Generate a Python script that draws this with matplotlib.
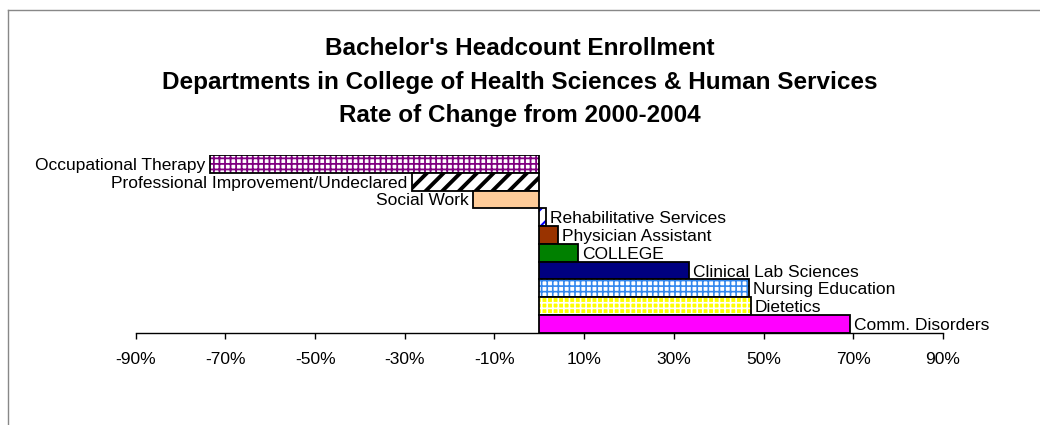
import numpy as np
import matplotlib.pyplot as plt
from matplotlib.lines import Line2D

plt.rcParams['font.family'] = ['Liberation Sans', 'DejaVu Sans']
plt.rcParams['hatch.linewidth'] = 1.0

# data, top to bottom as shown
departments = ["Occupational Therapy", "Professional Improvement/Undeclared",
               "Social Work", "Rehabilitative Services", "Physician Assistant",
               "COLLEGE", "Clinical Lab Sciences", "Nursing Education",
               "Dietetics", "Comm. Disorders"]
change = [-73.5, -28.5, -14.7, 1.4, 4.2, 8.7, 33.3, 46.8, 47.1, 69.3]

# fill colour, hatch, hatch colour, hatch linewidth
faces = ["white", "white", "#FFCC99", "white", "#993300",
         "#008000", "#000080", "white", "#FFFF00", "#FF00FF"]
hatches = ["+++", "//", None, "//", None, None, None, "+++", "+++", None]
hatch_colors = ["#800080", "black", None, "#0000FF", None, None, None,
                "#3388EE", "white", None]
hatch_lws = [1.3, 2.8, 1.0, 1.5, 1.0, 1.0, 1.0, 1.2, 1.2, 1.0]

ticks = [-90, -70, -50, -30, -10, 10, 30, 50, 70, 90]

fig = plt.figure(figsize=(10.4, 4.25), dpi=100)
ax = fig.add_axes([135.7 / 1040, 92.3 / 425, (943 - 135.7) / 1040, 177.7 / 425])

y = np.arange(len(departments))[::-1]

for yi, v, fc, h, hc, hlw in zip(y, change, faces, hatches, hatch_colors, hatch_lws):
    if h:
        b = ax.barh(yi, v, height=1.0, color=fc, edgecolor=hc, hatch=h,
                    linewidth=0)[0]
        if hasattr(b, "set_hatch_linewidth"):
            b.set_hatch_linewidth(hlw)
    else:
        ax.barh(yi, v, height=1.0, color=fc, linewidth=0)
    ax.barh(yi, v, height=1.0, fill=False, edgecolor="black", linewidth=1.3)

for yi, v, name in zip(y, change, departments):
    if v < 0:
        ax.text(v - 1.0, yi, name, ha="right", va="center_baseline", fontsize=12.5)
    else:
        ax.text(v + 0.9, yi, name, ha="left", va="center_baseline", fontsize=12.5)

ax.set_xlim(-90, 90)
ax.set_ylim(-0.5, len(departments) - 0.5)
ax.set_xticks(ticks)
ax.set_xticklabels([f"{t}%" for t in ticks], fontsize=12.5)
ax.tick_params(axis="x", direction="out", length=4, width=1, pad=10)
ax.set_yticks([])
for s in ["left", "right", "top"]:
    ax.spines[s].set_visible(False)
ax.spines["bottom"].set_linewidth(1)

fig.text(0.5, 1 - 82 / 425,
         "Bachelor's Headcount Enrollment\n"
         "Departments in College of Health Sciences & Human Services\n"
         "Rate of Change from 2000-2004",
         ha="center", va="center", fontsize=17.5, fontweight="bold",
         linespacing=1.58)

# outer chart-area border (cropped)
fig.add_artist(Line2D([8 / 1040, 8 / 1040], [0, 1 - 10 / 425],
                      transform=fig.transFigure, color="#888888", lw=1))
fig.add_artist(Line2D([8 / 1040, 1], [1 - 10 / 425, 1 - 10 / 425],
                      transform=fig.transFigure, color="#888888", lw=1))

fig.savefig("out.png", dpi=100)
